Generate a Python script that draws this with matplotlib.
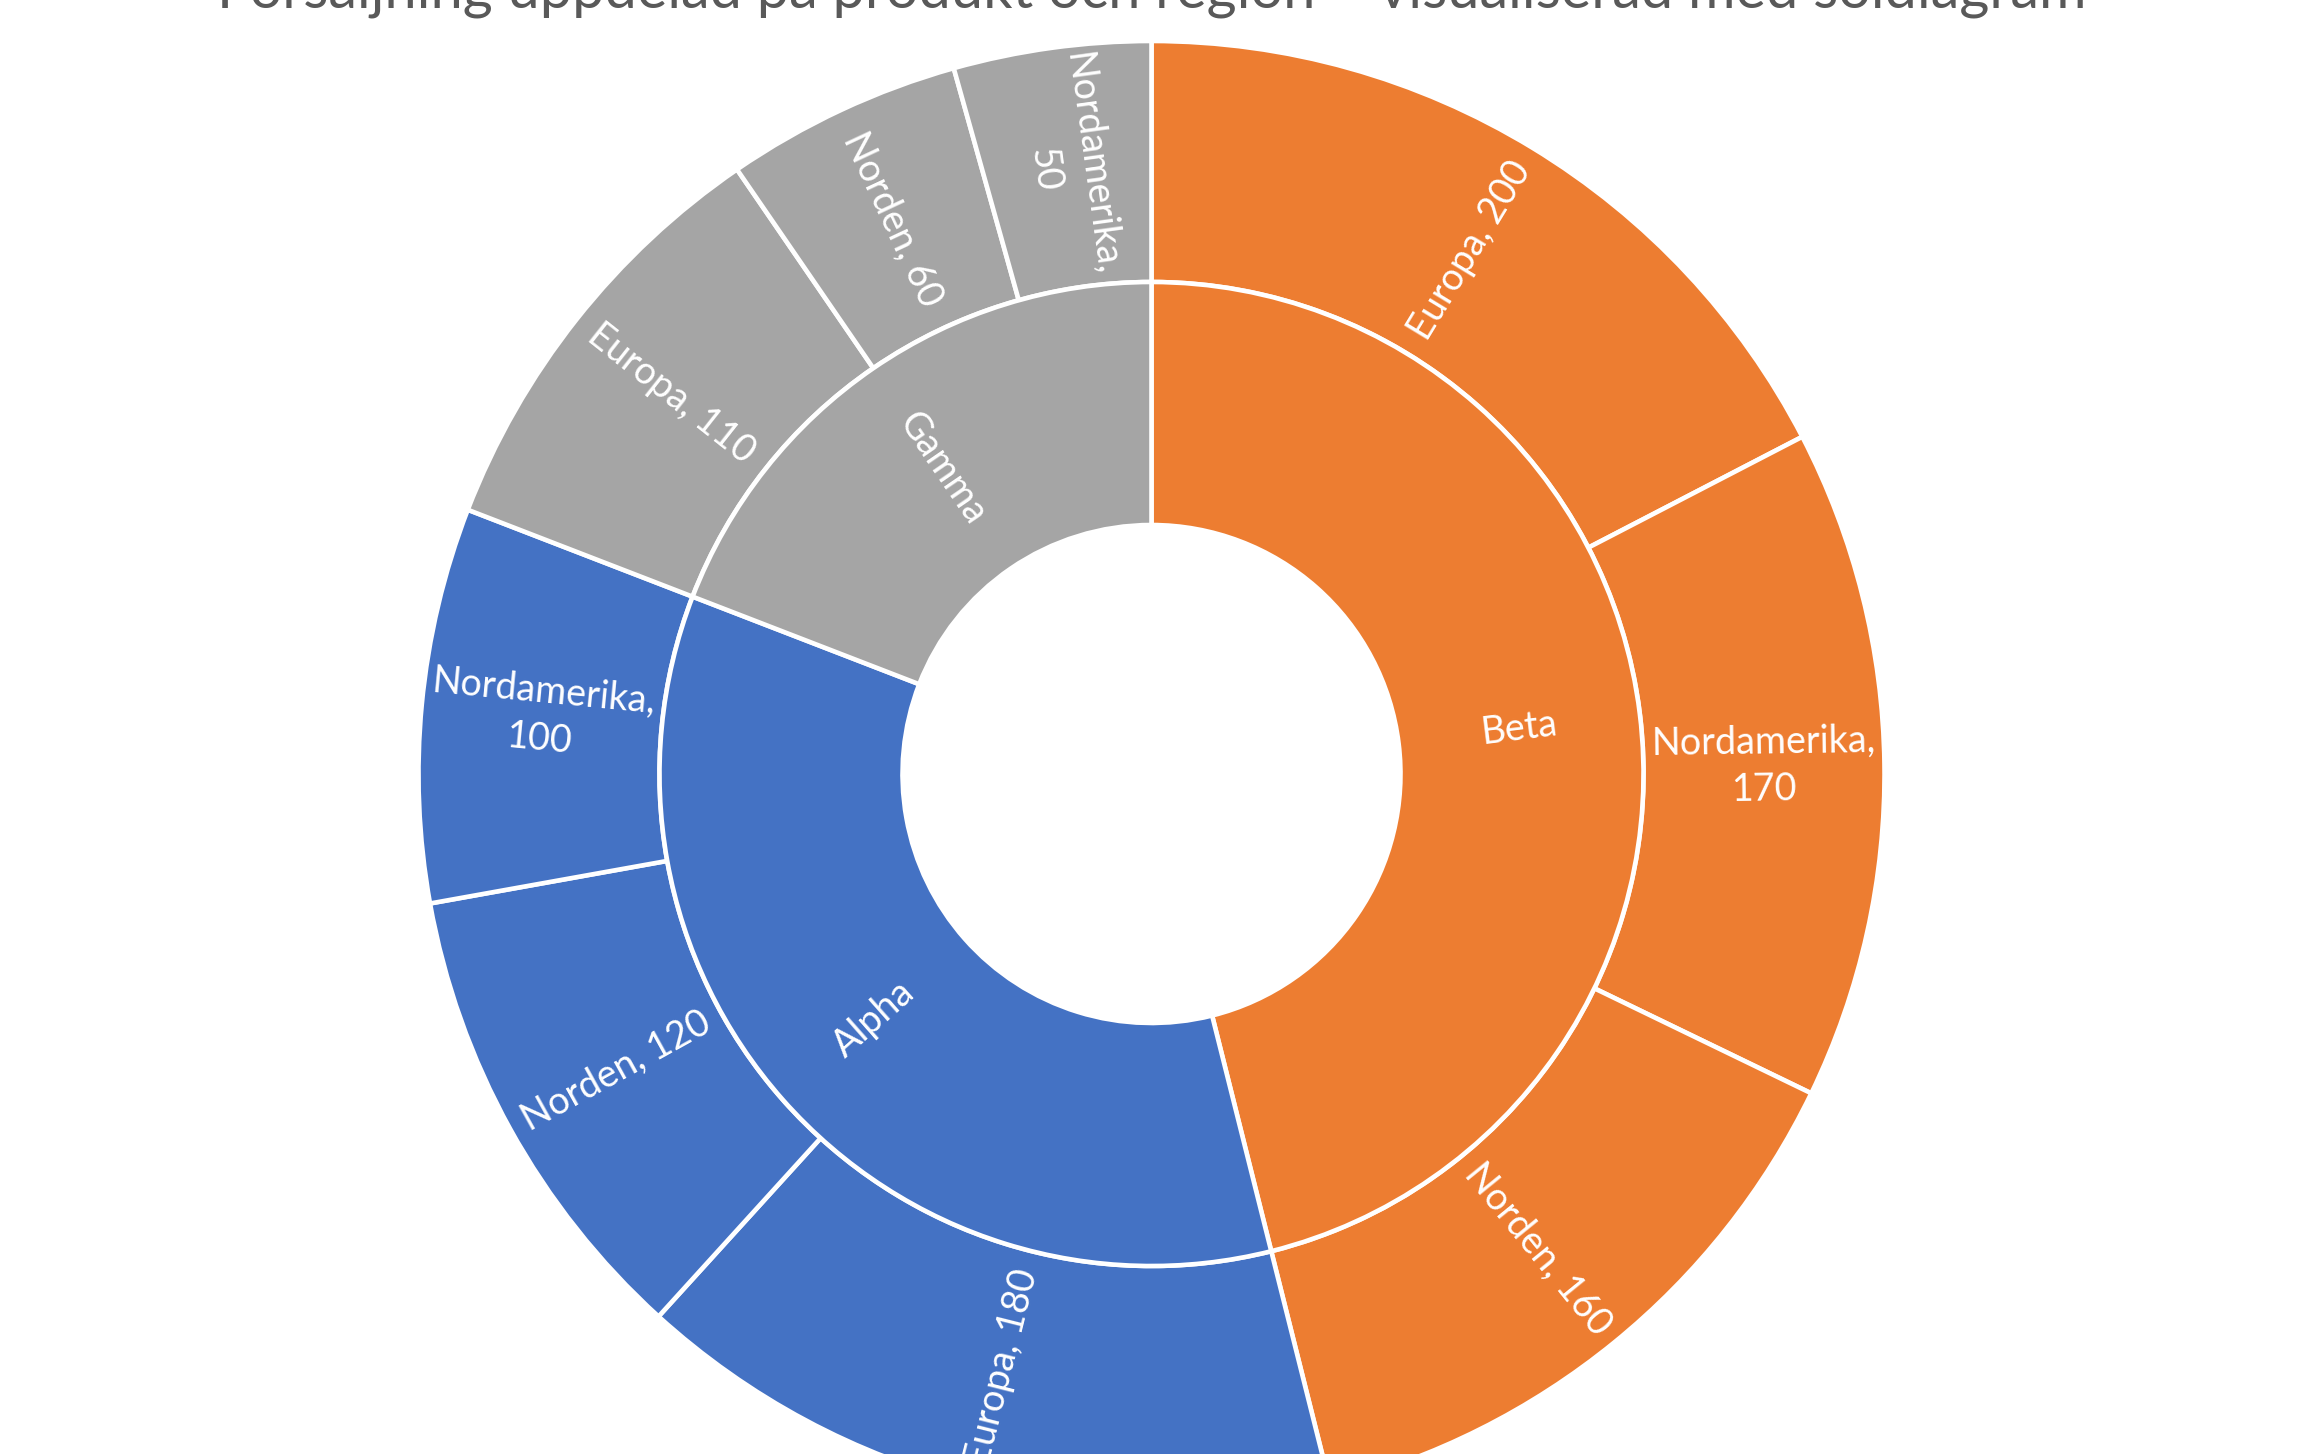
import numpy as np
import matplotlib.pyplot as plt

# data: produkt -> region -> försäljning
products = ['Beta', 'Alpha', 'Gamma']
regions = [['Europa', 'Nordamerika', 'Norden'],
           ['Europa', 'Norden', 'Nordamerika'],
           ['Europa', 'Norden', 'Nordamerika']]
sales = [[200, 170, 160],
         [180, 120, 100],
         [110, 60, 50]]
colors = ['#ED7D31', '#4472C4', '#A5A5A5']
title = 'Försäljning uppdelad på produkt och region – visualiserad med soldiagram'

plt.rcParams['font.family'] = ['Lato', 'DejaVu Sans']

W, H = 2304, 1454
fig = plt.figure(figsize=(W / 100, H / 100), dpi=100)

# chart geometry in pixels
cx, cy, R = 1151.5, 774, 733
r_mid = 492 / R
r_in = 249 / R
ax = fig.add_axes([(cx - R) / W, (H - cy - R) / H, 2 * R / W, 2 * R / H])

totals = [sum(s) for s in sales]
outer_vals = [v for s in sales for v in s]
outer_cols = [colors[i] for i, s in enumerate(sales) for _ in s]
outer_names = [n for r in regions for n in r]

wp = dict(edgecolor='white', linewidth=3.3)
ax.pie(outer_vals, radius=1, colors=outer_cols, startangle=90, counterclock=False,
       wedgeprops=dict(width=1 - r_mid, **wp))
ax.pie(totals, radius=r_mid, colors=colors, startangle=90, counterclock=False,
       wedgeprops=dict(width=r_mid - r_in, **wp))
ax.set_xlim(-1, 1)
ax.set_ylim(-1, 1)
ax.axis('off')


def put_labels(vals, names, r_label, with_value):
    total = sum(vals)
    cum = np.cumsum([0] + list(vals))
    for i, v in enumerate(vals):
        mid = (cum[i] + cum[i + 1]) / 2 / total * 360  # clockwise from top
        ang = np.deg2rad(90 - mid)
        x, y = r_label * np.cos(ang), r_label * np.sin(ang)
        rot = 90 - mid
        while rot <= -90:
            rot += 180
        while rot > 90:
            rot -= 180
        if with_value:
            sep = ',\n' if len(names[i]) > 8 else ', '
            txt = f'{names[i]}{sep}{v}'
        else:
            txt = names[i]
        ax.text(x, y, txt, rotation=rot, rotation_mode='anchor', ha='center', va='center',
                multialignment='center', color='white', fontsize=27.2, linespacing=1.4)


put_labels(outer_vals, outer_names, (1 + r_mid) / 2, True)
put_labels(totals, products, (r_mid + r_in) / 2, False)

fig.text(0.5, 1 - 7 / H, title, ha='center', va='baseline', color='#595959', fontsize=41.6)

fig.savefig('out.png', dpi=100)
